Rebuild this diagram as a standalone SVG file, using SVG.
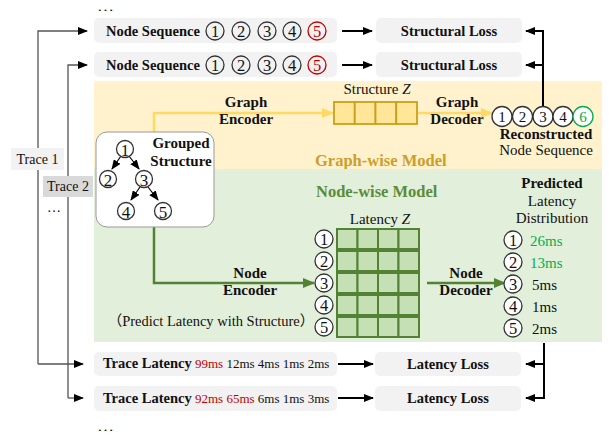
<svg xmlns="http://www.w3.org/2000/svg" width="609" height="436" viewBox="0 0 609 436">
<style>
text{font-family:"Liberation Serif","Times New Roman",serif;fill:#111;}
.cjk{font-family:"Liberation Serif","Noto Sans CJK SC",serif;}
.b{font-weight:bold;}
.lbl{font-size:14.5px;font-weight:bold;}
.t14{font-size:14px;}
.t15{font-size:15px;}
.v13{font-size:13px;}
.c{text-anchor:middle;}
.gbox{fill:#f2f2f2;}
.circ{fill:none;stroke:#333;stroke-width:1.3;}
.circw{fill:#fff;stroke:#333;stroke-width:1.3;}
.dig{font-size:16.5px;text-anchor:middle;}
.red{fill:#c00000;}
.grn{fill:#00b050;}
.thin{stroke:#555;stroke-width:1.3;fill:none;}
.blk{stroke:#000;stroke-width:2;fill:none;}
.cell{fill:#ffe699;stroke:#c9a01a;stroke-width:1.8;}
.gcell{fill:#c5e0b4;stroke:#548235;stroke-width:2;}
</style>
<defs>
<marker id="ab" markerWidth="10" markerHeight="8" refX="9" refY="4" orient="auto" markerUnits="userSpaceOnUse"><path d="M0,0 L10,4 L0,8 z" fill="#000"/></marker>
<marker id="ay" markerWidth="12" markerHeight="10" refX="11" refY="5" orient="auto" markerUnits="userSpaceOnUse"><path d="M0,0 L12,5 L0,10 z" fill="#ffd966"/></marker>
<marker id="ag" markerWidth="12" markerHeight="10" refX="11" refY="5" orient="auto" markerUnits="userSpaceOnUse"><path d="M0,0 L12,5 L0,10 z" fill="#548235"/></marker>
</defs>

<!-- backgrounds -->
<g id="graph-wise-model">
<rect x="94" y="81" width="508" height="88" fill="#fff2cc"/>
<text x="315" y="166" class="b" style="font-size:16.5px;fill:#cc9e2a">Graph-wise Model</text>
</g>
<g id="node-wise-model">
<rect x="94" y="169" width="508" height="173" fill="#e2efda"/>
<text x="316" y="197" class="b" style="font-size:16.5px;fill:#5b8c3a">Node-wise Model</text>
</g>

<text x="97" y="11" style="font-size:12px" textLength="17" lengthAdjust="spacingAndGlyphs">…</text>
<text x="97" y="431" style="font-size:12px" textLength="17" lengthAdjust="spacingAndGlyphs">…</text>

<!-- connectors -->
<g id="connectors">
<path class="thin" d="M38,364 V31 H87" marker-end="url(#ab)"/>
<path class="thin" d="M38,364 H83" marker-end="url(#ab)"/>
<path class="thin" d="M68,398 V65 H87" marker-end="url(#ab)"/>
<path class="thin" d="M68,398 H83" marker-end="url(#ab)"/>
<path class="blk" d="M342,31 H372" marker-end="url(#ab)"/>
<path class="blk" d="M342,65 H372" marker-end="url(#ab)"/>
<path class="blk" d="M338,364 H373" marker-end="url(#ab)"/>
<path class="blk" d="M338,398 H373" marker-end="url(#ab)"/>
<path class="blk" d="M543,107 V31 H526" marker-end="url(#ab)"/>
<path class="blk" d="M543,65 H526" marker-end="url(#ab)"/>
<path class="blk" d="M544,343 V398 H526" marker-end="url(#ab)"/>
<path class="blk" d="M544,364 H526" marker-end="url(#ab)"/>
<path d="M154,132 V113 H333" stroke="#ffd966" stroke-width="2.5" fill="none" marker-end="url(#ay)"/>
<path d="M417,113 H492" stroke="#ffd966" stroke-width="2.5" fill="none" marker-end="url(#ay)"/>
<path d="M154,227 V283 H314" stroke="#548235" stroke-width="2.5" fill="none" marker-end="url(#ag)"/>
<path d="M427,283 H505" stroke="#548235" stroke-width="2.5" fill="none" marker-end="url(#ag)"/>
<text x="246" y="107" class="b c t15">Graph</text>
<text x="246" y="124" class="b c t15">Encoder</text>
<text x="457" y="107" class="b c t15">Graph</text>
<text x="457" y="124" class="b c t15">Decoder</text>
<text x="250" y="278" class="b c t15">Node</text>
<text x="250" y="295" class="b c t15">Encoder</text>
<text x="466" y="278" class="b c t15">Node</text>
<text x="466" y="295" class="b c t15">Decoder</text>
</g>

<!-- trace labels -->
<g id="trace1">
<rect x="11" y="148" width="53" height="22" fill="#f2f2f2"/>
<text x="37.5" y="164" class="c t14">Trace 1</text>
</g>
<g id="trace2">
<rect x="43" y="176" width="50" height="21" fill="#d9d9d9"/>
<text x="68" y="191" class="c t14">Trace 2</text>
<text x="54" y="212" class="c t14">…</text>
</g>

<!-- node sequence rows -->
<g id="node-seq-1">
<rect class="gbox" x="94" y="18" width="243" height="25" rx="5"/>
<text x="106" y="36" class="lbl">Node Sequence</text>
<circle class="circ" cx="215" cy="31" r="9"/><text x="215" y="37" class="dig">1</text>
<circle class="circ" cx="241" cy="31" r="9"/><text x="241" y="37" class="dig">2</text>
<circle class="circ" cx="267" cy="31" r="9"/><text x="267" y="37" class="dig">3</text>
<circle class="circ" cx="292" cy="31" r="9"/><text x="292" y="37" class="dig">4</text>
<circle class="circ" cx="317" cy="31" r="9" style="stroke:#c00000"/><text x="317" y="37" class="dig red">5</text>
</g>
<g id="node-seq-2">
<rect class="gbox" x="94" y="52" width="243" height="25" rx="5"/>
<text x="106" y="70" class="lbl">Node Sequence</text>
<circle class="circ" cx="215" cy="65" r="9"/><text x="215" y="71" class="dig">1</text>
<circle class="circ" cx="241" cy="65" r="9"/><text x="241" y="71" class="dig">2</text>
<circle class="circ" cx="267" cy="65" r="9"/><text x="267" y="71" class="dig">3</text>
<circle class="circ" cx="292" cy="65" r="9"/><text x="292" y="71" class="dig">4</text>
<circle class="circ" cx="317" cy="65" r="9" style="stroke:#c00000"/><text x="317" y="71" class="dig red">5</text>
</g>
<g id="structural-loss-1">
<rect class="gbox" x="376" y="18" width="146" height="25" rx="5"/>
<text x="449" y="36" class="lbl c">Structural Loss</text>
</g>
<g id="structural-loss-2">
<rect class="gbox" x="376" y="52" width="146" height="25" rx="5"/>
<text x="449" y="70" class="lbl c">Structural Loss</text>
</g>

<!-- grouped structure -->
<g id="grouped-structure">
<rect x="96" y="132" width="118" height="95" rx="11" fill="#fff" stroke="#999" stroke-width="1"/>
<text x="181" y="148" class="b c t15">Grouped</text>
<text x="181" y="166" class="b c t15">Structure</text>
<path d="M121,156 L112,169" stroke="#000" stroke-width="1.2" marker-end="url(#ab)"/>
<path d="M129,156 L139,169" stroke="#000" stroke-width="1.2" marker-end="url(#ab)"/>
<path d="M140,187 L131,200" stroke="#000" stroke-width="1.2" marker-end="url(#ab)"/>
<path d="M148,187 L158,200" stroke="#000" stroke-width="1.2" marker-end="url(#ab)"/>
<circle class="circw" cx="125" cy="149" r="8.5"/><text x="125" y="155.5" class="dig" style="font-size:17px">1</text>
<circle class="circw" cx="108" cy="179" r="8.5"/><text x="108" y="185.5" class="dig" style="font-size:17px">2</text>
<circle class="circw" cx="144" cy="179" r="8.5"/><text x="144" y="185.5" class="dig" style="font-size:17px">3</text>
<circle class="circw" cx="126" cy="211" r="8.5"/><text x="126" y="217.5" class="dig" style="font-size:17px">4</text>
<circle class="circw" cx="163" cy="211" r="8.5"/><text x="163" y="217.5" class="dig" style="font-size:17px">5</text>
</g>

<!-- structure Z -->
<g id="structure-z">
<text x="377" y="94" class="c t15">Structure <tspan font-style="italic">Z</tspan></text>
<rect class="cell" x="334" y="102" width="20.75" height="22"/>
<rect class="cell" x="354.75" y="102" width="20.75" height="22"/>
<rect class="cell" x="375.5" y="102" width="20.75" height="22"/>
<rect class="cell" x="396.25" y="102" width="20.75" height="22"/>
</g>

<!-- reconstructed -->
<g id="reconstructed">
<circle class="circw" cx="502" cy="116.5" r="10"/><text x="502" y="122" class="dig" style="font-size:15px">1</text>
<circle class="circw" cx="522.5" cy="116.5" r="10"/><text x="522.5" y="122" class="dig" style="font-size:15px">2</text>
<circle class="circw" cx="543" cy="116.5" r="10"/><text x="543" y="122" class="dig" style="font-size:15px">3</text>
<circle class="circw" cx="563" cy="116.5" r="10"/><text x="563" y="122" class="dig" style="font-size:15px">4</text>
<circle class="circw" cx="583" cy="116.5" r="10" style="stroke:#00b050"/><text x="583" y="122" class="dig grn" style="font-size:15px">6</text>
<text x="546" y="139" class="b c t15">Reconstructed</text>
<text x="546" y="155" class="c t15">Node Sequence</text>
</g>

<!-- latency Z -->
<g id="latency-z">
<text x="380" y="224" class="c t15">Latency <tspan font-style="italic">Z</tspan></text>
<g id="lz-row1">
<circle class="circw" cx="324" cy="239" r="9"/><text x="324" y="245" class="dig">1</text>
<rect class="gcell" x="337" y="229" width="20.5" height="20"/><rect class="gcell" x="357.5" y="229" width="20.5" height="20"/><rect class="gcell" x="378" y="229" width="20.5" height="20"/><rect class="gcell" x="398.5" y="229" width="20.5" height="20"/>
</g>
<g id="lz-row2">
<circle class="circw" cx="324" cy="261" r="9"/><text x="324" y="267" class="dig">2</text>
<rect class="gcell" x="337" y="251" width="20.5" height="20"/><rect class="gcell" x="357.5" y="251" width="20.5" height="20"/><rect class="gcell" x="378" y="251" width="20.5" height="20"/><rect class="gcell" x="398.5" y="251" width="20.5" height="20"/>
</g>
<g id="lz-row3">
<circle class="circw" cx="324" cy="283" r="9"/><text x="324" y="289" class="dig">3</text>
<rect class="gcell" x="337" y="273" width="20.5" height="20"/><rect class="gcell" x="357.5" y="273" width="20.5" height="20"/><rect class="gcell" x="378" y="273" width="20.5" height="20"/><rect class="gcell" x="398.5" y="273" width="20.5" height="20"/>
</g>
<g id="lz-row4">
<circle class="circw" cx="324" cy="305" r="9"/><text x="324" y="311" class="dig">4</text>
<rect class="gcell" x="337" y="295" width="20.5" height="20"/><rect class="gcell" x="357.5" y="295" width="20.5" height="20"/><rect class="gcell" x="378" y="295" width="20.5" height="20"/><rect class="gcell" x="398.5" y="295" width="20.5" height="20"/>
</g>
<g id="lz-row5">
<circle class="circw" cx="324" cy="327" r="9"/><text x="324" y="333" class="dig">5</text>
<rect class="gcell" x="337" y="317" width="20.5" height="20"/><rect class="gcell" x="357.5" y="317" width="20.5" height="20"/><rect class="gcell" x="378" y="317" width="20.5" height="20"/><rect class="gcell" x="398.5" y="317" width="20.5" height="20"/>
</g>
</g>

<text x="211" y="326" class="c cjk" style="font-size:14.5px">（Predict Latency with Structure）</text>

<!-- predicted -->
<g id="predicted">
<text x="552" y="188" class="b c t15">Predicted</text>
<text x="552" y="206" class="c t15">Latency</text>
<text x="552" y="223" class="c t15">Distribution</text>
<circle class="circw" cx="513" cy="240" r="9"/><text x="513" y="246" class="dig">1</text><text x="530" y="245.5" class="t15 grn">26ms</text>
<circle class="circw" cx="513" cy="262" r="9"/><text x="513" y="268" class="dig">2</text><text x="530" y="267.5" class="t15 grn">13ms</text>
<circle class="circw" cx="513" cy="284" r="9"/><text x="513" y="290" class="dig">3</text><text x="532" y="289.5" class="t15">5ms</text>
<circle class="circw" cx="513" cy="306" r="9"/><text x="513" y="312" class="dig">4</text><text x="532" y="311.5" class="t15">1ms</text>
<circle class="circw" cx="513" cy="328" r="9"/><text x="513" y="334" class="dig">5</text><text x="532" y="333.5" class="t15">2ms</text>
</g>

<!-- trace latency rows -->
<g id="trace-latency-1">
<rect class="gbox" x="94" y="352" width="243" height="24" rx="5"/>
<text x="103" y="368" class="v13"><tspan class="lbl">Trace Latency</tspan> <tspan class="red">99ms</tspan> 12ms 4ms 1ms 2ms</text>
</g>
<g id="trace-latency-2">
<rect class="gbox" x="94" y="386" width="243" height="25" rx="5"/>
<text x="103" y="403" class="v13"><tspan class="lbl">Trace Latency</tspan> <tspan class="red">92ms 65ms</tspan> 6ms 1ms 3ms</text>
</g>
<g id="latency-loss-1">
<rect class="gbox" x="375" y="352" width="146" height="24" rx="5"/>
<text x="448" y="369" class="lbl c">Latency Loss</text>
</g>
<g id="latency-loss-2">
<rect class="gbox" x="375" y="386" width="146" height="25" rx="5"/>
<text x="448" y="403" class="lbl c">Latency Loss</text>
</g>
</svg>
